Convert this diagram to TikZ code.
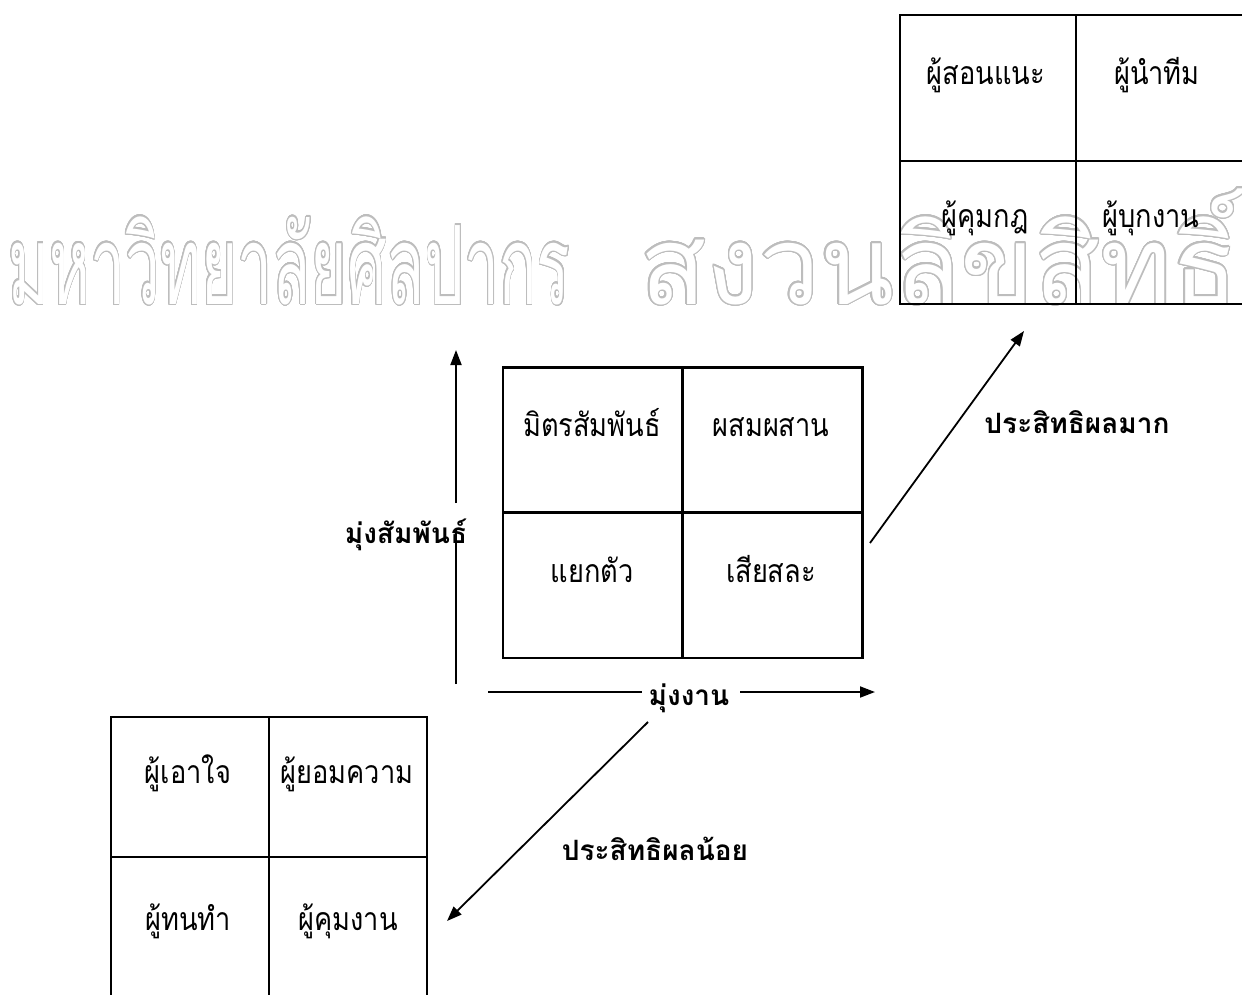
\documentclass[tikz,border=0pt]{standalone}
\usepackage{fontspec}
\usepackage{contour}
\usetikzlibrary{arrows.meta}
\newfontfamily\thai[Script=Thai]{Loma}
\newfontfamily\thaic[Script=Thai,FakeStretch=0.85]{Loma}
\contourlength{1.1pt}
\contournumber{32}
\definecolor{wmgray}{gray}{0.74}
\begin{document}
\begin{tikzpicture}[x=1pt,y=-1pt,
  cell/.style={draw, line width=2.2pt, inner sep=0pt},
  ct/.style={font=\thaic\fontsize{32}{36}\selectfont, anchor=base, inner sep=0pt},
  lb/.style={font=\thai\bfseries\fontsize{28}{32}\selectfont, anchor=base, inner sep=0pt},
  wmk/.style={anchor=base west, inner sep=0pt, font=\thai\fontsize{95}{100}\selectfont},
  arr/.style={line width=1.8pt, -{Triangle[length=15pt,width=11pt]}},
  ln/.style={line width=1.8pt}]
\useasboundingbox (0,0) rectangle (1242,995);
\begin{scope}
\clip (0,0) rectangle (1242,995);
% watermark
\node[wmk] (wm1) at (8,304)
  {\resizebox{562pt}{1.15\height}{\color{white}\contour{wmgray}{มหาวิทยาลัยศิลปากร}}};
\node[wmk] (wm2) at (640,304)
  {\resizebox{598pt}{1.15\height}{\color{white}\contour{wmgray}{สงวนลิขสิทธิ์}}};
% top-right box
\node[cell, minimum width=176pt, minimum height=146pt] (tr11) at (988,88) {};
\node[cell, minimum width=176pt, minimum height=146pt] (tr12) at (1164,88) {};
\node[cell, minimum width=176pt, minimum height=143pt] (tr21) at (988,232.5) {};
\node[cell, minimum width=176pt, minimum height=143pt] (tr22) at (1164,232.5) {};
% middle box
\node[cell, minimum width=180pt, minimum height=145pt] (m11) at (593,440) {};
\node[cell, minimum width=180pt, minimum height=145pt] (m12) at (772.5,440) {};
\node[cell, minimum width=180pt, minimum height=146pt] (m21) at (593,585) {};
\node[cell, minimum width=180pt, minimum height=146pt] (m22) at (772.5,585) {};
% bottom-left box
\node[cell, minimum width=158pt, minimum height=140pt] (bl11) at (190,787) {};
\node[cell, minimum width=158pt, minimum height=140pt] (bl12) at (348,787) {};
\node[cell, minimum width=158pt, minimum height=140pt] (bl21) at (190,927) {};
\node[cell, minimum width=158pt, minimum height=140pt] (bl22) at (348,927) {};
\end{scope}
% cell texts
\node[ct] (t1) at (986,85) {ผู้สอนแนะ};
\node[ct] (t2) at (1157,85) {ผู้นำทีม};
\node[ct] (t3) at (985,227) {ผู้คุมกฎ};
\node[ct] (t4) at (1151,227) {ผู้บุกงาน};
\node[ct] (t5) at (592,436) {มิตรสัมพันธ์};
\node[ct] (t6) at (771,436) {ผสมผสาน};
\node[ct] (t7) at (592,582) {แยกตัว};
\node[ct] (t8) at (771,582) {เสียสละ};
\node[ct] (t9) at (188,783) {ผู้เอาใจ};
\node[ct] (t10) at (347,783) {ผู้ยอมความ};
\node[ct] (t11) at (188,930) {ผู้ทนทำ};
\node[ct] (t12) at (348,930) {ผู้คุมงาน};
% axes
\coordinate (vb) at (456,684);
\coordinate (vg1) at (456,530);
\coordinate (vg2) at (456,503);
\coordinate (vt) at (456,350);
\draw[ln] (vb) -- (vg1);
\draw[arr] (vg2) -- (vt);
\node[lb] (lrel) at (406,543) {มุ่งสัมพันธ์};
\coordinate (hl) at (488,692);
\coordinate (hg1) at (642,692);
\coordinate (hg2) at (740,692);
\coordinate (hr) at (875,692);
\draw[ln] (hl) -- (hg1);
\draw[arr] (hg2) -- (hr);
\node[lb] (ltask) at (689,705) {มุ่งงาน};
% diagonals
\coordinate (d1s) at (870,543);
\coordinate (d1e) at (1024,331);
\draw[arr] (d1s) -- (d1e);
\node[lb] (lhigh) at (1077,433) {ประสิทธิผลมาก};
\coordinate (d2s) at (648,722);
\coordinate (d2e) at (447,921);
\draw[arr] (d2s) -- (d2e);
\node[lb] (llow) at (655,860) {ประสิทธิผลน้อย};
\end{tikzpicture}
\end{document}
